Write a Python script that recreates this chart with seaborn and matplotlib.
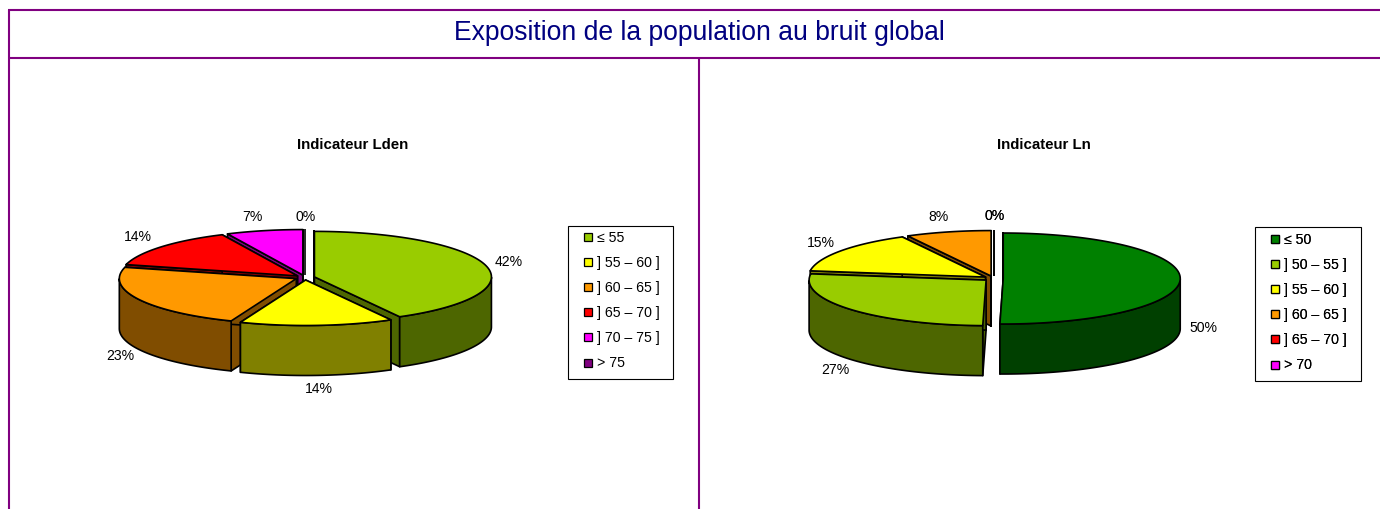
import numpy as np
import pandas as pd
import seaborn as sns
import matplotlib
matplotlib.use("Agg")
import matplotlib.pyplot as plt
from matplotlib.lines import Line2D
from matplotlib.patches import Rectangle

# ---- data ----
main_title = "Exposition de la population au bruit global"
lden_title = "Indicateur Lden"
lden_classes = ["≤ 55", "] 55 – 60 ]", "] 60 – 65 ]", "] 65 – 70 ]", "] 70 – 75 ]", "> 75"]
lden_shares = [42, 14, 23, 14, 7, 0]
lden_colors = ["#99CC00", "#FFFF00", "#FF9900", "#FF0000", "#FF00FF", "#800080"]

ln_title = "Indicateur Ln"
ln_classes = ["≤ 50", "] 50 – 55 ]", "] 55 – 60 ]", "] 60 – 65 ]", "] 65 – 70 ]", "> 70"]
ln_shares = [50.3, 26.9, 15, 7.8, 0, 0]
ln_colors = ["#008000", "#99CC00", "#FFFF00", "#FF9900", "#FF0000", "#FF00FF"]

# ---- layout (pixels) ----
W, H = 1380, 509
RX, RY, DEPTH, EXPLODE = 177, 45.5, 50, 0.055
LINE = "#800080"
EDGE = 1.2
lden_label_offsets = [(22, -4), (4, 64), (-18, 57), (-24, -10), (-13, -14), (1, -12)]
ln_label_offsets = [(23, 49), (-16, 60), (-20, -8), (-9.5, -15), (1, -14), (1, -14)]

sns.set_theme(style="white")
plt.rcParams["font.family"] = ["Liberation Sans", "DejaVu Sans"]
fig = plt.figure(figsize=(W / 100, H / 100), dpi=100, facecolor="white")
ax = fig.add_axes([0, 0, 1, 1])
ax.set_xlim(0, W)
ax.set_ylim(H, 0)
ax.set(xticks=[], yticks=[])
sns.despine(ax=ax, left=True, bottom=True)
for s in ax.spines.values():
    s.set_visible(False)


def darker(c):
    return tuple(v * 0.5 for v in matplotlib.colors.to_rgb(c))


def pie3d(df, cx, cy, offsets):
    """Exploded tilted pie, clockwise from 12 o'clock, with depth."""
    frac = df["share"].to_numpy(float) / df["share"].sum()
    ends = np.cumsum(frac) * 2 * np.pi
    starts = ends - frac * 2 * np.pi
    items = []
    for i, (a0, a1) in enumerate(zip(starts, ends)):
        mid = (a0 + a1) / 2
        ax0 = cx + EXPLODE * RX * np.sin(mid)
        ay0 = cy - EXPLODE * RY * np.cos(mid)
        t = np.linspace(a0, a1, max(2, int((a1 - a0) * 60)))
        rx = ax0 + RX * np.sin(t)
        ry = ay0 - RY * np.cos(t)
        items.append((np.mean(np.r_[ry, ay0]), i, ax0, ay0, t, rx, ry, a1 > a0))
    z = 3
    for _, i, ax0, ay0, t, rx, ry, solid in sorted(items, key=lambda k: k[0]):
        col = df["color"].iloc[i]
        dark = darker(col)
        style = dict(edgecolor="black", linewidth=EDGE, joinstyle="round")
        if solid:
            # radial cut faces
            for j in (0, -1):
                ax.fill([ax0, rx[j], rx[j], ax0], [ay0, ry[j], ry[j] + DEPTH, ay0 + DEPTH],
                        facecolor=dark, zorder=z, **style)
            # outer wall (front part only)
            front = np.cos(t) <= 0
            if front.any():
                fx, fy = rx[front], ry[front]
                ax.fill(np.r_[fx, fx[::-1]], np.r_[fy, fy[::-1] + DEPTH],
                        facecolor=dark, zorder=z + 0.1, **style)
        # top face
        ax.fill(np.r_[ax0, rx], np.r_[ay0, ry], facecolor=col, zorder=z + 0.2, **style)
        z += 1
        # label
        dx, dy = offsets[i]
        ax.text(rx[len(rx) // 2] + dx, ry[len(ry) // 2] + dy,
                f"{df['share'].iloc[i]:.0f}%", ha="center", va="center",
                fontsize=10.1, color="black", zorder=40)


def legend_box(df, x0, y0, x1, y1, lx, ly):
    ax.add_patch(Rectangle((x0, y0), x1 - x0, y1 - y0, facecolor="white",
                           edgecolor="black", linewidth=0.8, zorder=2))
    handles = [Line2D([], [], linestyle="none", marker="s", markersize=6.2,
                      markerfacecolor=c, markeredgecolor="black", markeredgewidth=0.9)
               for c in df["color"]]
    leg = ax.legend(handles, df["cls"], loc="upper left",
                    bbox_to_anchor=(lx, ly), bbox_transform=ax.transData,
                    frameon=False, fontsize=10.2, borderpad=0, borderaxespad=0,
                    handlelength=1.13, handletextpad=0.07, labelspacing=0.79,
                    labelcolor="black")
    leg.set_zorder(41)
    ax.add_artist(leg)


# frame
for xs, ys in [((8, W), (10, 10)), ((9, W), (58, 58)),
               ((9, 9), (10, H)), ((699, 699), (58, H))]:
    ax.plot(xs, ys, color=LINE, lw=1.5, solid_capstyle="butt", zorder=1)

ax.text(699, 33, main_title, ha="center", va="center", fontsize=19.1, color="#000080")
ax.text(353, 145, lden_title, ha="center", va="center", fontsize=10.8, fontweight="bold", color="black")
ax.text(1043.5, 145, ln_title, ha="center", va="center", fontsize=10.8, fontweight="bold", color="black")

lden = pd.DataFrame({"cls": lden_classes, "share": lden_shares, "color": lden_colors})
ln = pd.DataFrame({"cls": ln_classes, "share": ln_shares, "color": ln_colors})

pie3d(lden, 305, 277.5, lden_label_offsets)
pie3d(ln, 993.5, 278.5, ln_label_offsets)
legend_box(lden, 568, 226, 673, 379, 580, 230.5)
legend_box(ln, 1255, 227, 1361, 381, 1267, 232.5)

fig.savefig("out.png", dpi=100, facecolor="white")
